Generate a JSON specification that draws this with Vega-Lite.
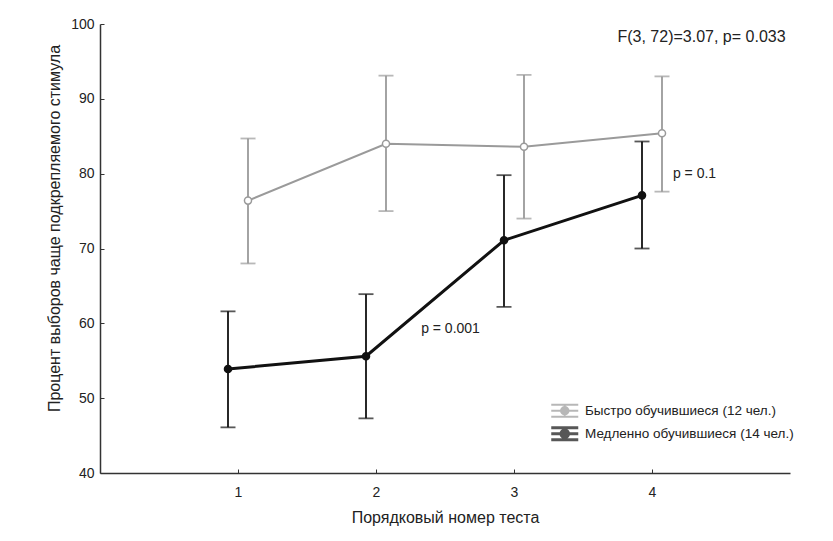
{
  "$schema": "https://vega.github.io/schema/vega-lite/v6.json",
  "width": 690,
  "height": 449,
  "autosize": {"type": "none"},
  "padding": {"left": 100, "top": 24, "right": 43, "bottom": 68},
  "background": "white",
  "config": {
    "view": {"stroke": null},
    "font": "Liberation Sans",
    "axis": {
      "grid": false,
      "domainColor": "#333333",
      "domainWidth": 1.5,
      "tickColor": "#333333",
      "tickWidth": 1,
      "tickSize": -4,
      "labelFont": "Liberation Sans",
      "labelFontSize": 14,
      "labelColor": "#222222",
      "titleFont": "Liberation Sans",
      "titleFontSize": 16,
      "titleFontWeight": "normal",
      "titleColor": "#222222"
    }
  },
  "datasets": {
    "series": [
      {"test": 1, "group": "Быстро обучившиеся (12 чел.)", "mean": 76.4, "lo": 68.0, "hi": 84.7},
      {"test": 2, "group": "Быстро обучившиеся (12 чел.)", "mean": 84.0, "lo": 75.0, "hi": 93.1},
      {"test": 3, "group": "Быстро обучившиеся (12 чел.)", "mean": 83.6, "lo": 74.0, "hi": 93.2},
      {"test": 4, "group": "Быстро обучившиеся (12 чел.)", "mean": 85.4, "lo": 77.6, "hi": 93.0},
      {"test": 1, "group": "Медленно обучившиеся (14 чел.)", "mean": 53.9, "lo": 46.1, "hi": 61.6},
      {"test": 2, "group": "Медленно обучившиеся (14 чел.)", "mean": 55.6, "lo": 47.3, "hi": 63.9},
      {"test": 3, "group": "Медленно обучившиеся (14 чел.)", "mean": 71.1, "lo": 62.2, "hi": 79.8},
      {"test": 4, "group": "Медленно обучившиеся (14 чел.)", "mean": 77.1, "lo": 70.0, "hi": 84.3}
    ],
    "notes": [
      {"nx": 4.359, "ny": 98.2, "label": "F(3, 72)=3.07, p= 0.033", "kind": "big"},
      {"nx": 4.308, "ny": 80.0, "label": "p = 0.1", "kind": "small"},
      {"nx": 2.540, "ny": 59.3, "label": "p = 0.001", "kind": "small"}
    ]
  },
  "layer": [
    {
      "data": {"name": "series"},
      "encoding": {
        "x": {
          "field": "test",
          "type": "ordinal",
          "scale": {"type": "point", "padding": 1},
          "axis": {"title": "Порядковый номер теста", "labelAngle": 0, "labelPadding": 16, "titlePadding": 10}
        },
        "xOffset": {
          "field": "group",
          "type": "nominal",
          "scale": {"type": "point", "domain": ["Медленно обучившиеся (14 чел.)", "Быстро обучившиеся (12 чел.)"], "range": [-10, 10], "padding": 0}
        },
        "color": {
          "field": "group",
          "type": "nominal",
          "scale": {"domain": ["Быстро обучившиеся (12 чел.)", "Медленно обучившиеся (14 чел.)"], "range": ["#9a9a9a", "#111111"]},
          "legend": {
            "title": null,
            "orient": "none",
            "legendX": 458,
            "legendY": 380,
            "symbolType": "M-2.7,0H2.7M-2.7,-1.2H2.7M-2.7,1.2H2.7M0,-1.2V1.2M-0.75,0A0.75,0.75 0 1,0 0.75,0A0.75,0.75 0 1,0 -0.75,0",
            "symbolSize": 100,
            "symbolStrokeWidth": 2,
            "labelFont": "Liberation Sans",
            "labelFontSize": 13.5,
            "labelColor": "#222222",
            "labelOffset": 13.5,
            "labelLimit": 0,
            "rowPadding": 0
          }
        }
      },
      "layer": [
        {
          "mark": {"type": "rule", "strokeWidth": 1.8},
          "encoding": {
            "y": {"field": "lo", "type": "quantitative", "scale": {"domain": [40, 100], "nice": false, "zero": false}},
            "y2": {"field": "hi"}
          }
        },
        {
          "mark": {"type": "tick", "thickness": 1.8, "size": 15},
          "encoding": {"y": {"field": "lo", "type": "quantitative", "scale": {"domain": [40, 100], "nice": false, "zero": false}}}
        },
        {
          "mark": {"type": "tick", "thickness": 1.8, "size": 15},
          "encoding": {"y": {"field": "hi", "type": "quantitative", "scale": {"domain": [40, 100], "nice": false, "zero": false}}}
        },
        {
          "mark": {"type": "line"},
          "encoding": {
            "y": {"field": "mean", "type": "quantitative", "scale": {"domain": [40, 100], "nice": false, "zero": false}},
            "strokeWidth": {
              "field": "group",
              "type": "nominal",
              "scale": {"domain": ["Быстро обучившиеся (12 чел.)", "Медленно обучившиеся (14 чел.)"], "range": [2, 3]},
              "legend": null
            }
          }
        },
        {
          "mark": {"type": "point", "shape": "circle", "size": 50, "strokeWidth": 1.5, "opacity": 1},
          "encoding": {
            "y": {
              "field": "mean",
              "type": "quantitative",
              "scale": {"domain": [40, 100], "nice": false, "zero": false},
              "axis": {
                "title": "Процент выборов чаще подкрепляемого стимула",
                "values": [40, 50, 60, 70, 80, 90, 100],
                "labelPadding": 10,
                "titlePadding": 8,
                "titleY": 204
              }
            },
            "fill": {
              "field": "group",
              "type": "nominal",
              "scale": {"domain": ["Быстро обучившиеся (12 чел.)", "Медленно обучившиеся (14 чел.)"], "range": ["#ffffff", "#111111"]},
              "legend": {"title": null}
            }
          }
        }
      ]
    },
    {
      "data": {"name": "notes"},
      "mark": {"type": "text", "font": "Liberation Sans", "color": "#222222", "baseline": "middle", "align": "center"},
      "encoding": {
        "x": {"field": "nx", "type": "quantitative", "scale": {"domain": [0, 5], "nice": false, "zero": false}, "axis": null},
        "y": {"field": "ny", "type": "quantitative", "scale": {"domain": [40, 100], "nice": false, "zero": false}},
        "text": {"field": "label"},
        "size": {"condition": {"test": "datum.kind === 'big'", "value": 16}, "value": 14}
      }
    }
  ],
  "resolve": {"scale": {"x": "independent"}}
}
